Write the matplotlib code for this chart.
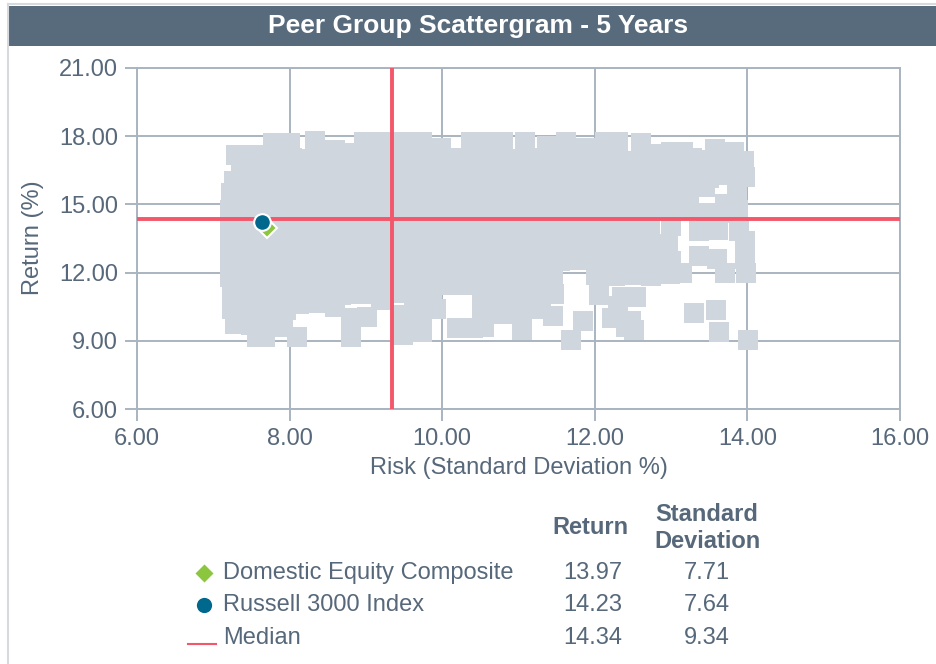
import matplotlib
matplotlib.use("Agg")
import matplotlib.pyplot as plt
from matplotlib.patches import Rectangle

plt.rcParams['font.family'] = ['Liberation Sans', 'DejaVu Sans']

# peer group universe (risk = std dev %, return %)
peer_risk = [
    # top band
    7.30, 7.52, 7.78, 8.00, 8.33, 8.59, 8.75, 8.98, 9.22, 9.48, 9.74, 9.98, 10.38, 10.62,
    10.80, 11.08, 11.37, 11.62, 11.89, 12.13, 12.30, 12.60, 12.78, 13.00, 13.15, 13.57, 13.83,
    # ~17.0
    7.36, 7.56, 7.79, 8.03, 8.26, 8.49, 8.73, 8.97, 9.21, 9.44, 9.69, 9.93, 10.16, 10.41, 10.64,
    10.88, 11.11, 11.36, 11.59, 11.84, 12.07, 12.31, 12.56, 12.79, 13.03, 13.27, 13.51, 13.74, 13.96,
    # ~16.25
    7.27, 7.50, 7.74, 7.98, 8.22, 8.46, 8.70, 8.94, 9.18, 9.42, 9.66, 9.90, 10.14, 10.38, 10.62,
    10.86, 11.10, 11.34, 11.58, 11.82, 12.06, 12.30, 12.54, 12.78, 13.02, 13.26, 13.50, 13.75, 13.97,
    # ~15.5
    7.23, 7.47, 7.71, 7.95, 8.19, 8.43, 8.67, 8.91, 9.15, 9.39, 9.63, 9.87, 10.11, 10.35, 10.59,
    10.83, 11.07, 11.31, 11.55, 11.79, 12.03, 12.27, 12.51, 12.75, 12.99, 13.24, 13.44, 13.70, 13.86,
    # ~14.75
    7.22, 7.46, 7.70, 7.94, 8.18, 8.42, 8.66, 8.90, 9.14, 9.38, 9.62, 9.86, 10.10, 10.34, 10.58,
    10.82, 11.06, 11.30, 11.54, 11.78, 12.02, 12.26, 12.50, 12.74, 12.98, 13.22, 13.46, 13.68, 13.88,
    # ~14.0
    7.22, 7.45, 7.69, 7.93, 8.17, 8.41, 8.65, 8.89, 9.13, 9.37, 9.61, 9.85, 10.09, 10.33, 10.57,
    10.81, 11.05, 11.29, 11.53, 11.77, 12.01, 12.25, 12.49, 12.73, 13.00, 13.36, 13.62, 13.89,
    # ~13.25
    7.22, 7.45, 7.69, 7.93, 8.17, 8.41, 8.65, 8.89, 9.13, 9.37, 9.61, 9.85, 10.09, 10.33, 10.57,
    10.81, 11.05, 11.29, 11.53, 11.77, 12.01, 12.25, 12.49, 12.73, 12.96,
    # ~12.5
    7.22, 7.46, 7.70, 7.94, 8.18, 8.42, 8.66, 8.90, 9.14, 9.38, 9.62, 9.86, 10.10, 10.34, 10.58,
    10.82, 11.06, 11.30, 11.54, 11.78, 12.02, 12.26, 12.50, 12.74, 13.00, 13.36, 13.60, 13.97, 13.97,
    # ~11.8
    7.22, 7.46, 7.70, 7.94, 8.18, 8.42, 8.66, 8.90, 9.14, 9.38, 9.62, 9.86, 10.10, 10.34, 10.58,
    10.82, 11.06, 11.30, 11.45, 12.02, 12.26, 12.50, 12.74, 12.98, 13.14, 13.70, 13.98,
    # ~11.1
    7.24, 7.47, 7.71, 7.95, 8.19, 8.43, 8.67, 8.91, 9.15, 9.39, 9.63, 9.86, 10.08, 10.30, 10.52,
    10.76, 11.00, 11.24, 11.46, 12.06, 12.36, 12.54,
    # ~10.4
    7.25, 7.47, 7.72, 7.95, 8.12, 8.36, 8.60, 8.81, 9.02, 9.20, 9.48, 9.73, 9.92, 10.52, 10.78,
    11.04, 11.30, 11.45, 12.23, 12.48, 12.30,
    # ~9.7
    7.28, 7.50, 7.72, 7.92, 9.48, 9.73, 10.20, 10.40, 10.55, 11.04, 11.84, 12.41, 12.52, 13.30,
    13.59, 13.63,
    # bottom
    7.57, 7.68, 8.10, 8.81, 9.48, 9.74, 11.69, 14.01,
]
peer_return = [
    17.17, 17.17, 17.70, 17.70, 17.78, 17.40, 17.25, 17.75, 17.75, 17.76, 17.74, 17.48, 17.75, 17.76,
    17.74, 17.75, 17.55, 17.76, 17.50, 17.75, 17.74, 17.68, 17.20, 17.30, 17.32, 17.42, 17.30,

    16.55, 17.02, 16.95, 17.05, 16.98, 17.00, 16.92, 17.04, 16.97, 17.01, 16.94, 17.06, 17.05, 16.96, 17.02,
    16.98, 17.03, 16.95, 17.00, 17.04, 16.97, 17.02, 16.93, 17.05, 16.99, 17.05, 16.96, 17.00, 16.90,

    16.05, 16.28, 16.22, 16.30, 16.25, 16.20, 16.27, 16.24, 16.31, 16.22, 16.26, 16.20, 16.29, 16.25, 16.21,
    16.28, 16.24, 16.30, 16.22, 16.26, 16.20, 16.27, 16.25, 16.22, 16.29, 16.24, 16.18, 16.30, 16.20,

    15.50, 15.45, 15.55, 15.48, 15.52, 15.46, 15.54, 15.50, 15.47, 15.53, 15.49, 15.55, 15.45, 15.51, 15.48,
    15.54, 15.50, 15.46, 15.52, 15.49, 15.55, 15.47, 15.51, 15.48, 15.53, 15.50, 15.75, 15.00, 15.55,

    14.75, 14.80, 14.72, 14.78, 14.74, 14.80, 14.76, 14.71, 14.79, 14.75, 14.73, 14.80, 14.77, 14.72, 14.78,
    14.74, 14.80, 14.75, 14.71, 14.78, 14.76, 14.73, 14.79, 14.75, 14.72, 14.85, 14.62, 14.60, 14.75,

    14.00, 13.96, 14.04, 13.98, 14.02, 13.95, 14.03, 14.00, 13.97, 14.05, 13.99, 14.02, 13.96, 14.04, 14.00,
    13.97, 14.03, 13.98, 14.01, 13.95, 14.04, 13.99, 14.02, 13.97, 14.05, 13.85, 13.88, 13.82,

    13.25, 13.28, 13.22, 13.27, 13.24, 13.30, 13.21, 13.26, 13.23, 13.29, 13.25, 13.22, 13.28, 13.24, 13.27,
    13.21, 13.26, 13.30, 13.23, 13.25, 13.28, 13.22, 13.27, 13.24, 13.26,

    12.50, 12.46, 12.54, 12.48, 12.52, 12.45, 12.53, 12.50, 12.47, 12.55, 12.49, 12.52, 12.46, 12.54, 12.50,
    12.47, 12.53, 12.48, 12.51, 12.55, 12.49, 12.52, 12.46, 12.54, 12.50, 12.72, 12.62, 12.58, 13.40,

    11.80, 11.76, 11.83, 11.78, 11.82, 11.75, 11.84, 11.79, 11.77, 11.83, 11.80, 11.76, 11.82, 11.78, 11.84,
    11.75, 11.80, 11.83, 11.78, 11.88, 11.85, 11.90, 11.87, 11.92, 11.98, 11.97, 12.00,

    11.05, 11.10, 11.02, 11.08, 11.04, 11.10, 11.03, 11.07, 11.05, 11.09, 11.02, 11.06, 11.45, 11.45, 11.05,
    11.08, 11.03, 11.07, 11.04, 11.00, 10.91, 10.91,

    10.40, 10.35, 10.40, 10.35, 10.62, 10.65, 10.50, 10.00, 10.05, 10.78, 10.15, 10.30, 10.40, 10.45, 10.20,
    10.30, 10.40, 10.10, 9.99, 9.85, 10.55,

    9.75, 9.70, 9.68, 9.60, 9.60, 9.60, 9.55, 9.55, 9.60, 9.46, 9.85, 9.60, 9.46, 10.21,
    10.34, 9.37,

    9.15, 9.15, 9.15, 9.15, 9.25, 9.37, 9.02, 9.02,
]
assert len(peer_risk) == len(peer_return)

series_names = ["Domestic Equity Composite", "Russell 3000 Index", "Median"]
series_return = [13.97, 14.23, 14.34]
series_risk = [7.71, 7.64, 9.34]

x_ticks = [6, 8, 10, 12, 14, 16]
y_ticks = [6, 9, 12, 15, 18, 21]

W, H = 936, 664
slate = "#56687a"
gridc = "#aab4c0"
red = "#f4566a"
peer_c = "#d0d6de"
green = "#8cc63f"
blue = "#00688d"

fig = plt.figure(figsize=(W / 100, H / 100), dpi=100)


def box(x0, y0, x1, y1):
    return [x0 / W, 1 - y1 / H, (x1 - x0) / W, (y1 - y0) / H]


# overlay in pixel coords for the frame, title bar and legend table
lax = fig.add_axes([0, 0, 1, 1], zorder=0)
lax.set_xlim(0, W)
lax.set_ylim(H, 0)
lax.axis("off")

ax = fig.add_axes(box(137, 68, 900, 409), zorder=1)

ax.scatter(peer_risk, peer_return, marker="s", s=207, color=peer_c, linewidths=0, zorder=2)
ax.axvline(series_risk[2], color=red, lw=2.8, zorder=3)
ax.axhline(series_return[2], color=red, lw=2.8, zorder=3)
ax.plot(series_risk[0], series_return[0], marker="D", ms=10, color=green,
        mec="white", mew=1.5, zorder=4)
ax.plot(series_risk[1], series_return[1], marker="o", ms=12, color=blue,
        mec="white", mew=1.5, zorder=5)

ax.set_xlim(6, 16)
ax.set_ylim(6, 21)
ax.set_xticks(x_ticks)
ax.set_yticks(y_ticks)
ax.set_xticklabels(["%.2f" % v for v in x_ticks])
ax.set_yticklabels(["%.2f" % v for v in y_ticks])
ax.tick_params(length=8.6, width=1.4, color=gridc, labelcolor=slate, labelsize=17, pad=5)
ax.grid(True, color=gridc, lw=1.4)
ax.set_axisbelow(True)
for s in ax.spines.values():
    s.set_color(gridc)
    s.set_linewidth(1.4)

lax.text(519, 468, "Risk (Standard Deviation %)", ha="center", va="center", fontsize=17, color=slate)
lax.text(33, 238, "Return (%)", ha="center", va="center", rotation=90, fontsize=17, color=slate)

# frame + title bar
lax.plot([8, 8], [4, H], color="#d6dadf", lw=1.5)
lax.plot([8, W], [4, 4], color="#d6dadf", lw=1.5)
lax.add_patch(Rectangle((9, 6), W - 9, 40, color="#586b7c", lw=0))
lax.text(478, 26, "Peer Group Scattergram - 5 Years", ha="center", va="center",
         fontsize=19, fontweight="bold", color="white")

# legend table
lax.text(590, 527, "Return", ha="center", va="center", fontsize=17, fontweight="bold", color=slate)
lax.text(707, 528, "Standard\nDeviation", ha="center", va="center", fontsize=17,
         fontweight="bold", color=slate, linespacing=1.2)
row_y = [573, 605, 638]
lax.plot(204, row_y[0], marker="D", ms=10, color=green, mec="white", mew=1)
lax.plot(204, row_y[1], marker="o", ms=12, color=blue, mec="white", mew=1)
lax.plot([188, 216], [row_y[2] + 6, row_y[2] + 6], color=red, lw=1.5)
for yy, name, r, sd in zip(row_y, series_names, series_return, series_risk):
    lax.text(223, yy, name, ha="left", va="center", fontsize=17, color=slate)
    lax.text(593, yy, "%.2f" % r, ha="center", va="center", fontsize=17, color=slate)
    lax.text(707, yy, "%.2f" % sd, ha="center", va="center", fontsize=17, color=slate)

fig.savefig("out.png", dpi=100)
